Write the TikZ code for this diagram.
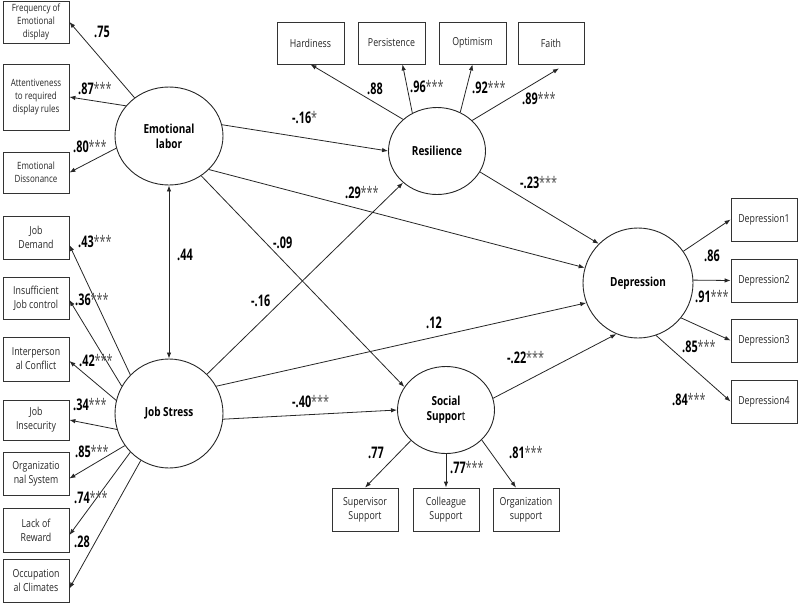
\documentclass[tikz,border=0pt]{standalone}
\usepackage{fontspec}
\setmainfont{Open Sans}[FakeStretch=0.8]
\newfontfamily\labfont{Open Sans}[FakeStretch=0.68]
\usetikzlibrary{shapes.geometric,arrows.meta}
\newcommand\cf[2]{{\labfont\fontsize{16}{18}\selectfont\bfseries #1\mdseries\color{black!70}#2}}
\begin{document}
\begin{tikzpicture}[x=1pt,y=-1pt,
  box/.style={draw=black!80, line width=0.8pt, minimum width=66pt, minimum height=43pt, inner sep=0pt, align=center, font=\fontsize{11}{14}\selectfont, text=black!85},
  sbox/.style={box, font=\fontsize{10}{13}\selectfont},
  lat/.style={ellipse, draw=black!85, line width=0.9pt, inner sep=0pt, align=center, font=\fontsize{12.5}{15}\selectfont\bfseries},
  arr/.style={draw=black!85, line width=0.8pt, -{Latex[length=6pt,width=4.5pt]}},
  lab/.style={anchor=west, inner sep=0pt}]
\useasboundingbox (0,0) rectangle (798,603);
% latent variables
\node[lat, minimum width=108pt, minimum height=98pt] (el) at (169,136) {Emotional\\labor};
\node[lat, minimum width=108pt, minimum height=109pt] (js) at (169,413.5) {Job Stress};
\node[lat, minimum width=97pt, minimum height=87pt] (res) at (437,151) {Resilience};
\node[lat, minimum width=110pt, minimum height=110pt] (dep) at (638,283) {Depression};
\node[lat, minimum width=97pt, minimum height=87pt] (ss) at (446,410) {Social\\Suppor{\mdseries t}};
% left boxes
\node[sbox, minimum height=42pt] (freq) at (36,22) {Frequency of\\Emotional\\display};
\node[sbox, minimum height=66pt] (att) at (36,97) {Attentiveness\\to required\\display rules};
\node[sbox, minimum height=41pt] (dis) at (36,172.5) {Emotional\\Dissonance};
\node[box] (jd) at (36,237.5) {Job\\Demand};
\node[box, minimum height=42pt] (ins) at (36,298) {Insufficient\\Job control};
\node[box, minimum height=44pt] (ipc) at (36,359) {Interperson\\al Conflict};
\node[box, minimum height=40pt] (jin) at (36,420) {Job\\Insecurity};
\node[box] (org) at (36,473.5) {Organizatio\\nal System};
\node[box, minimum height=44pt] (lack) at (36,530) {Lack of\\Reward};
\node[box] (occ) at (36,580.5) {Occupation\\al Climates};
% top boxes
\node[box, minimum width=67pt, minimum height=42pt] (hard) at (310.5,43) {Hardiness};
\node[box, minimum width=67pt, minimum height=42pt] (pers) at (391.5,43) {Persistence};
\node[box, minimum width=67pt, minimum height=42pt] (opt) at (472.5,43) {Optimism};
\node[box, minimum height=42pt] (faith) at (551,43) {Faith};
% right boxes
\node[box] (d1) at (764,219.5) {Depression1};
\node[box] (d2) at (764,280.5) {Depression2};
\node[box] (d3) at (764,340.5) {Depression3};
\node[box] (d4) at (764,401.5) {Depression4};
% bottom boxes
\node[box] (sup) at (365,509.5) {Supervisor\\Support};
\node[box] (col) at (446,509.5) {Colleague\\Support};
\node[box] (orgs) at (526,509.5) {Organization\\support};
% measurement paths
\draw[arr] (el.132) -- (freq.east);
\draw[arr] (el.145) -- (att.east);
\draw[arr] (el.193) -- (dis.east);
\draw[arr] (js.135) -- ([yshift=-7.5pt]jd.east);
\draw[arr] (js.150) -- ([yshift=-2pt]ins.east);
\draw[arr] (js.166) -- ([yshift=-2pt]ipc.east);
\draw[arr] (js.197) -- (jin.east);
\draw[arr] (js.216) -- ([yshift=-5pt]org.east);
\draw[arr] (js.225) -- ([yshift=-5pt]lack.east);
\draw[arr] (js.239) -- ([yshift=-8pt]occ.east);
\draw[arr] (res.137) -- (hard.south);
\draw[arr] (res.123) -- ([xshift=11pt]pers.south);
\draw[arr] (res.59) -- (opt.south);
\draw[arr] (res.41.5) -- ([xshift=8pt,yshift=-4pt]faith.south);
\draw[arr] (dep.35) -- (d1.west);
\draw[arr] (dep.3) -- (d2.west);
\draw[arr] (dep.-39) -- (d3.west);
\draw[arr] (dep.-71) -- (d4.west);
\draw[arr] (ss.221) -- (sup.north);
\draw[arr] (ss.-90) -- (col.north);
\draw[arr] (ss.-40) -- ([xshift=-10pt]orgs.north);
% structural paths
\draw[arr, {Latex[length=6pt,width=4.5pt]}-{Latex[length=6pt,width=4.5pt]}] (el.south) -- (js.north);
\draw[arr] (el.12) -- (res.180);
\draw[arr] (el.-40) -- (dep.164);
\draw[arr] (el.-51) -- (ss.151);
\draw[arr] (js.46) -- (res.223);
\draw[arr] (js.30) -- (dep.201);
\draw[arr] (js.-6) -- (ss.180);
\draw[arr] (res.-26) -- (dep.135);
\draw[arr] (ss.14.6) -- (dep.247);
% coefficients
\node[lab] (c1) at (94,32) {\cf{.75}{}};
\node[lab] (c2) at (78,89) {\cf{.87}{***}};
\node[lab] (c3) at (73,147) {\cf{.80}{***}};
\node[lab] (c4) at (78,242) {\cf{.43}{***}};
\node[lab] (c5) at (75,300) {\cf{.36}{***}};
\node[lab] (c6) at (79,361) {\cf{.42}{***}};
\node[lab] (c7) at (73,405) {\cf{.34}{***}};
\node[lab] (c8) at (75,452) {\cf{.85}{***}};
\node[lab] (c9) at (74,498) {\cf{.74}{***}};
\node[lab] (c10) at (74,542) {\cf{.28}{}};
\node[lab] (c11) at (177,255) {\cf{.44}{}};
\node[lab] (c12) at (251,301) {\cf{-.16}{}};
\node[lab] (c13) at (367,89) {\cf{.88}{}};
\node[lab] (c14) at (410,87) {\cf{.96}{***}};
\node[lab] (c15) at (472,88) {\cf{.92}{***}};
\node[lab] (c16) at (522,99) {\cf{.89}{***}};
\node[lab] (c17) at (292,118) {\cf{-.16}{*}};
\node[lab] (c18) at (520,183) {\cf{-.23}{***}};
\node[lab] (c19) at (345,193) {\cf{.29}{***}};
\node[lab] (c20) at (273,243) {\cf{-.09}{}};
\node[lab] (c21) at (426,323) {\cf{.12}{}};
\node[lab] (c22) at (507,358) {\cf{-.22}{***}};
\node[lab] (c23) at (292,402) {\cf{-.40}{***}};
\node[lab] (c24) at (704,256) {\cf{.86}{}};
\node[lab] (c25) at (695,297) {\cf{.91}{***}};
\node[lab] (c26) at (682,347) {\cf{.85}{***}};
\node[lab] (c27) at (672,400) {\cf{.84}{***}};
\node[lab] (c28) at (368,453) {\cf{.77}{}};
\node[lab] (c29) at (450,468) {\cf{.77}{***}};
\node[lab] (c30) at (509,453) {\cf{.81}{***}};
\end{tikzpicture}
\end{document}
